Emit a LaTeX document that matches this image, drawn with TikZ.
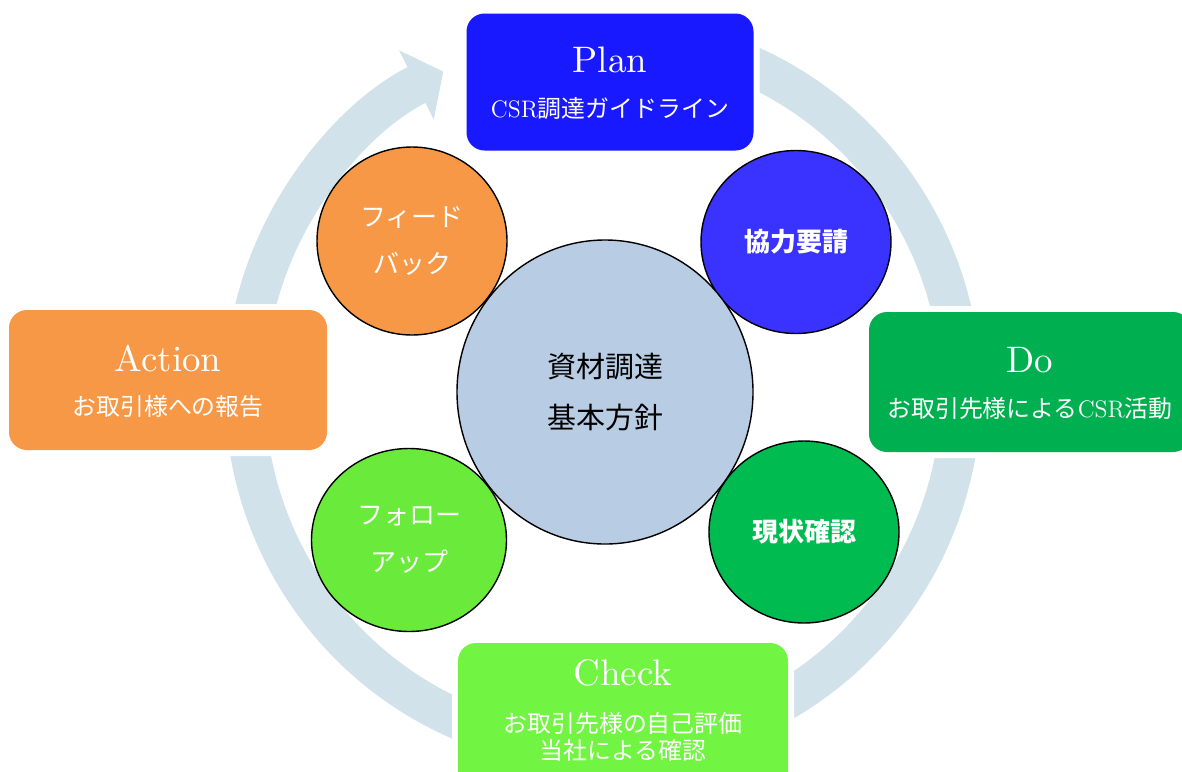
\documentclass[tikz,border=0pt]{standalone}
\usepackage{fontspec}
\newfontfamily\jp{Noto Sans CJK JP}
\newfontfamily\heading{lmroman10-regular}[Extension=.otf]
\usetikzlibrary{positioning,arrows.meta,shapes.geometric}
\definecolor{ringblue}{HTML}{D1E2EA}
\definecolor{planblue}{HTML}{1919FF}
\definecolor{askblue}{HTML}{3A32FF}
\definecolor{dogreen}{HTML}{00B050}
\definecolor{nowgreen}{HTML}{00BB50}
\definecolor{checklime}{HTML}{72F542}
\definecolor{followlime}{HTML}{6AEB3B}
\definecolor{actorange}{HTML}{F79846}
\definecolor{hubgray}{HTML}{B8CCE4}
\newlength{\unitpx}
\setlength{\unitpx}{0.02cm}

\begin{document}
\begin{tikzpicture}[x=0.02cm,y=-0.02cm,
stage/.style={rectangle,rounded corners=18\unitpx,inner sep=0pt,
  preaction={draw=white,line width=12\unitpx}},
title/.style={text=white,font=\heading\fontsize{21}{24}\selectfont},
sub/.style={text=white,align=center,font=\jp\fontsize{13.6}{15.4}\selectfont},
topic/.style={ellipse,draw,line width=0.8pt,inner sep=0pt,align=center,text=white,
  font=\jp\fontsize{14.8}{26.7}\selectfont},
ring/.style={draw=ringblue,line width=40\unitpx}]

\useasboundingbox (0,0) rectangle (1182,771);

% ring
\coordinate (hub) at (603,392);
\draw[ring,-{Triangle[length=0.6cm,width=1.52cm]}] ([shift={(-70:358)}]hub)
  arc[start angle=-70,end angle=243.5,radius=358];

% stages
\node[stage,fill=planblue,minimum width=287\unitpx,minimum height=137\unitpx] (plan) at (610,82) {};
\node[stage,fill=dogreen,minimum width=322\unitpx,minimum height=140\unitpx] (do) at (1030,382) {};
\node[stage,fill=checklime,minimum width=330\unitpx,minimum height=150\unitpx] (check) at (623,718) {};
\node[stage,fill=actorange,minimum width=318\unitpx,minimum height=140\unitpx] (action) at (168,380) {};

% stage labels
\node[title] (plan-t) at (610,60) {Plan};
\node[sub] (plan-s) at (610,108) {{\rmfamily CSR}調達ガイドライン};
\node[title] (do-t) at (1030,360) {Do};
\node[sub] (do-s) at (1030,408) {お取引先様による{\rmfamily CSR}活動};
\node[title] (check-t) at (623,673) {Check};
\node[sub] (check-s) at (623,737) {お取引先様の自己評価\\当社による確認};
\node[title] (action-t) at (168,358) {Action};
\node[sub] (action-s) at (168,407) {お取引様への報告};

% topics
\node[topic,fill=actorange,minimum width=190\unitpx,minimum height=188\unitpx] (feedback) at (412,241) {フィード\\バック};
\node[topic,fill=askblue,minimum width=190\unitpx,minimum height=183\unitpx,font=\jp\bfseries\fontsize{14.8}{26.7}\selectfont] (request) at (796,242) {協力要請};
\node[topic,fill=nowgreen,minimum width=190\unitpx,minimum height=182\unitpx,font=\jp\bfseries\fontsize{14.8}{26.7}\selectfont] (status) at (804,532) {現状確認};
\node[topic,fill=followlime,minimum width=195\unitpx,minimum height=183\unitpx] (followup) at (409,540) {フォロー\\アップ};

% policy
\node[topic,fill=hubgray,text=black,minimum width=296\unitpx,minimum height=304\unitpx,
  font=\jp\fontsize{16.5}{28.5}\selectfont] (policy) at (605,392) {資材調達\\基本方針};

\end{tikzpicture}
\end{document}
